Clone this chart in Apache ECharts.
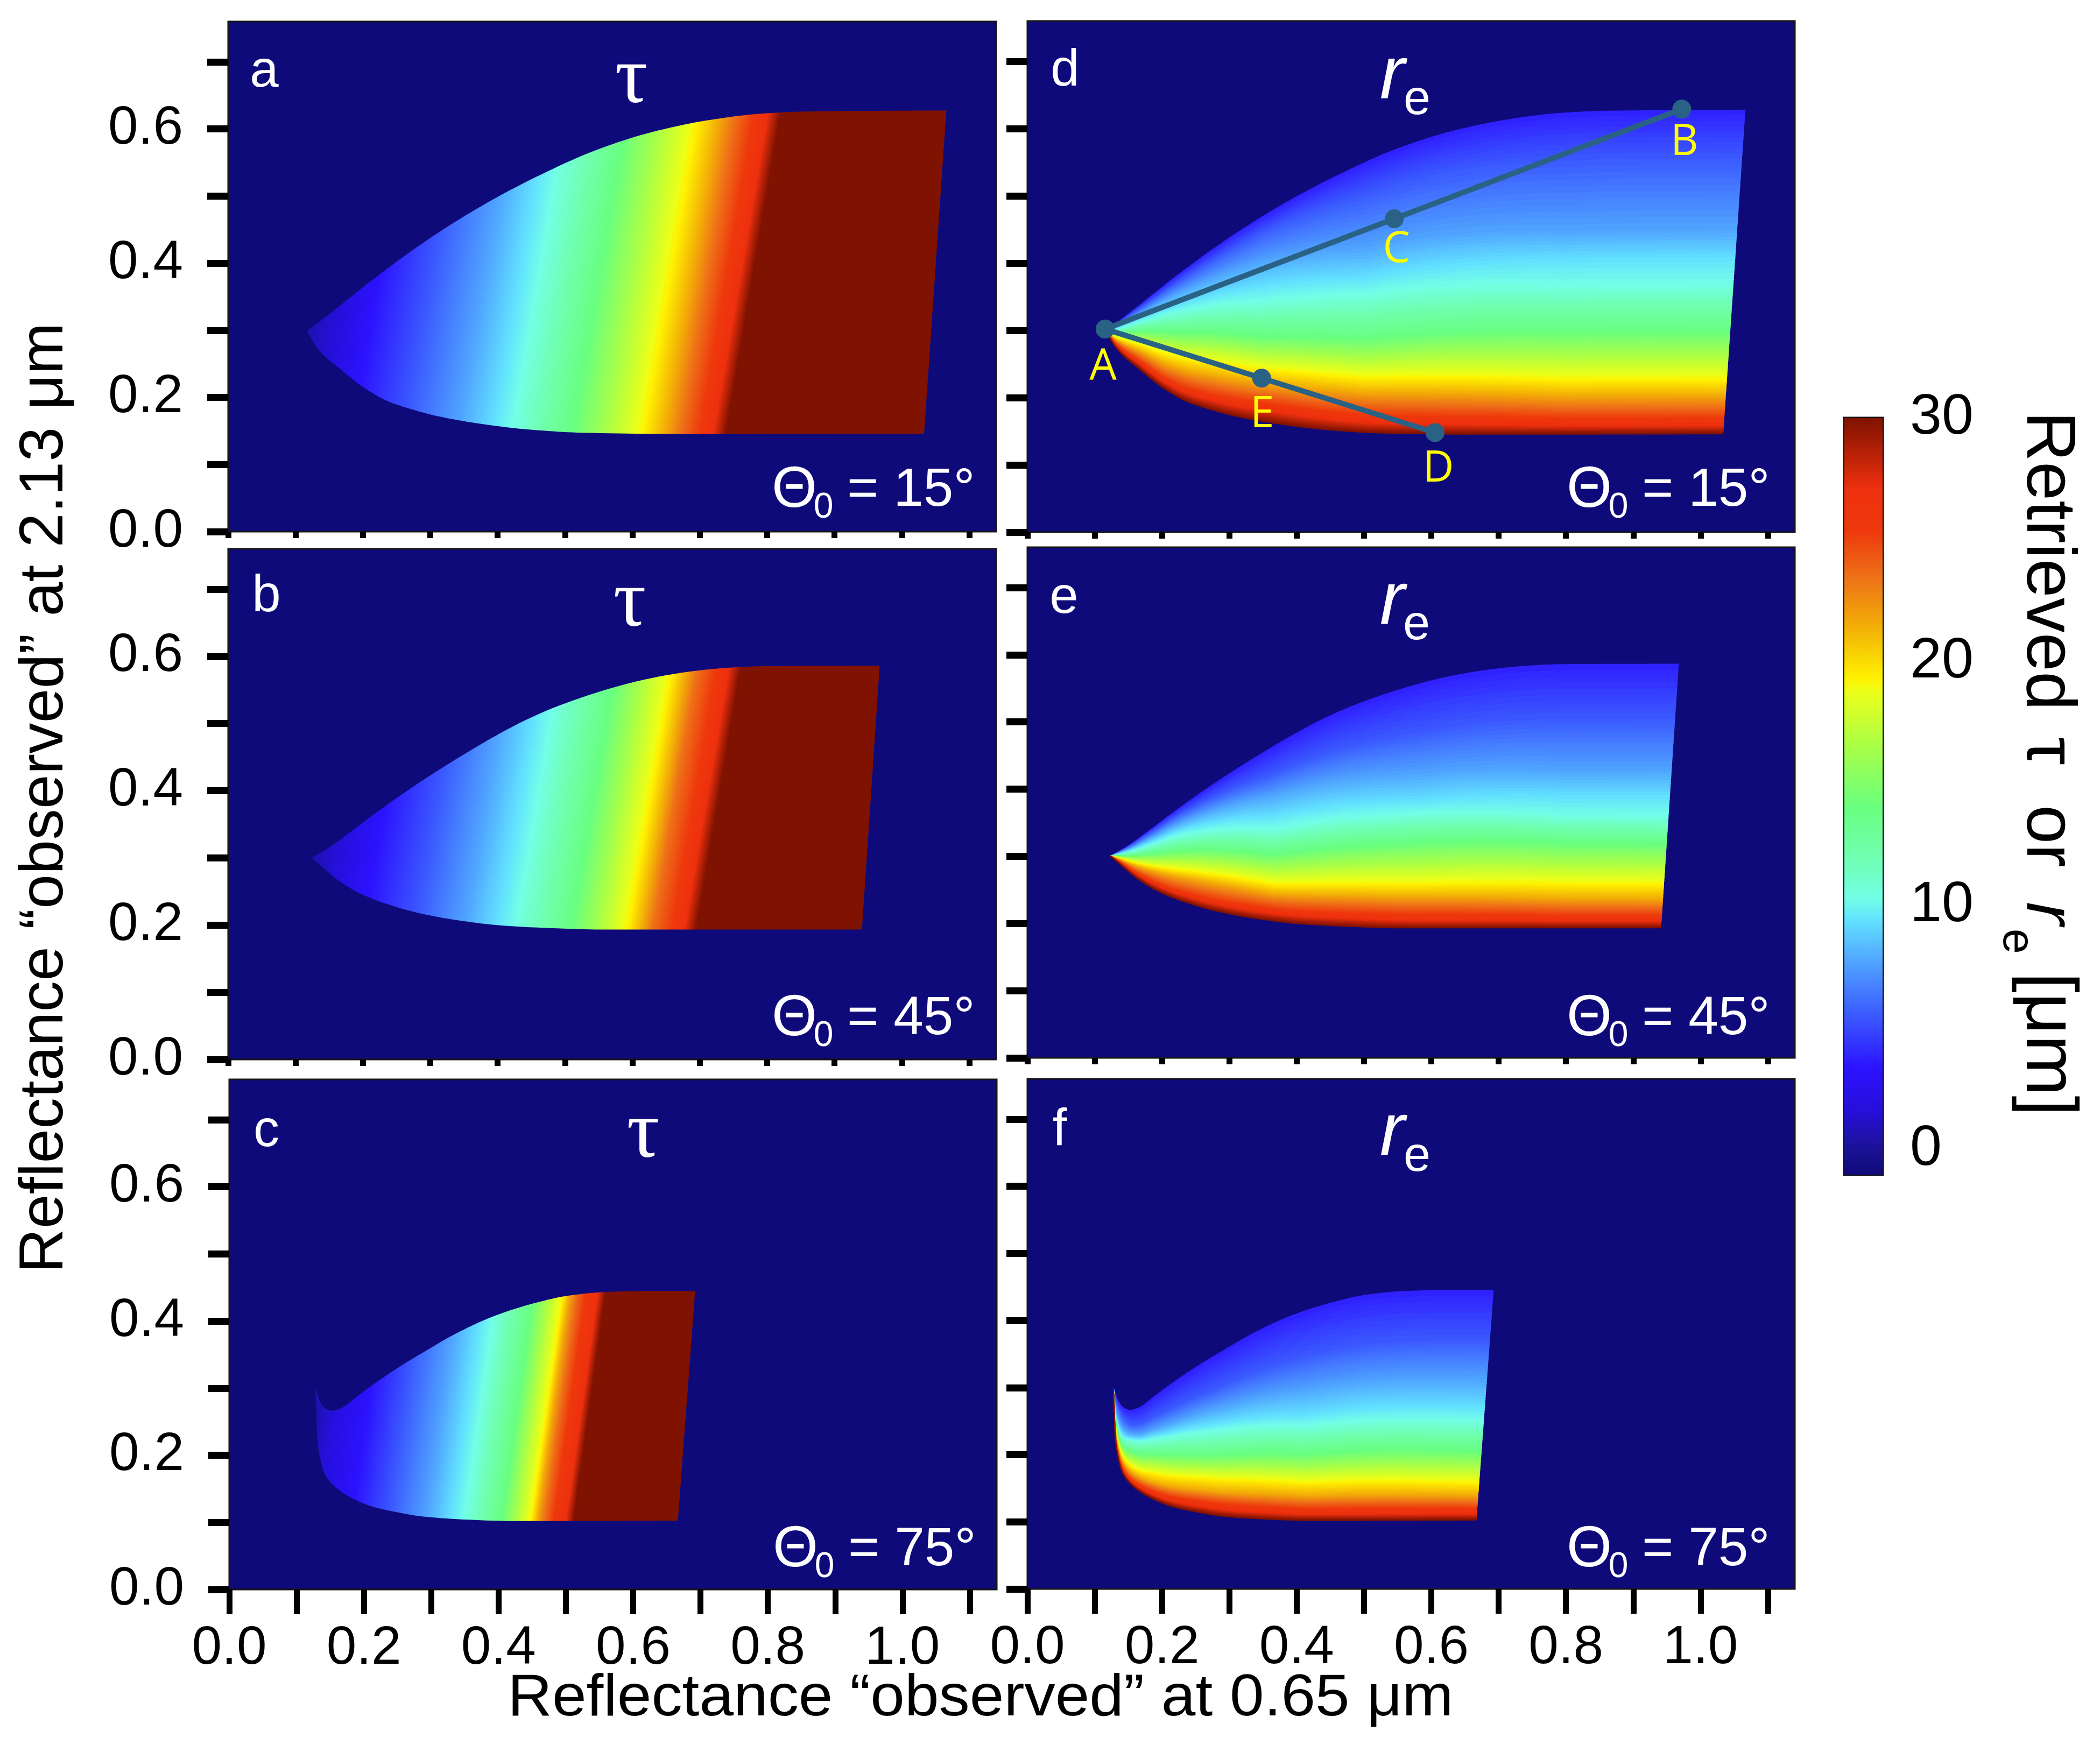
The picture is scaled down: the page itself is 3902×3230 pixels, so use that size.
<!DOCTYPE html>
<html><head><meta charset="utf-8">
<style>html,body{margin:0;padding:0;background:#fff}#c{width:3902px;height:3230px}</style>
<script src="https://cdn.jsdelivr.net/npm/echarts@6/dist/echarts.min.js"></script>
</head><body><div id="c"></div>
<script>
// ---------- values ----------
const xTickValues = [0,0.1,0.2,0.3,0.4,0.5,0.6,0.7,0.8,0.9,1.0,1.1];
const xLabelValues = [0,0.2,0.4,0.6,0.8,1.0];
const yTickValues = [0,0.1,0.2,0.3,0.4,0.5,0.6,0.7];
const yLabelValues = [0,0.2,0.4,0.6];
const barTicks = [0,10,20,30];

const cmapValues = [-1.04,0,1.5,3.3,5.5,7.7,9.4,10.3,12,14,16.5,18.8,19.3,21.65,23.5,25.4,27.1,30];
const cmapColors = ['#0f0a78','#1b1296','#2510d8','#2c12ff','#3b5aff','#50a4ff','#62e2ff','#72ffe6','#70ffb0','#68ff80','#a8ff48','#ecff18','#fff200','#f2a808','#ee7018','#ee380c','#ee300e','#7f1200'];

// outline of the reflectance region: [R0.65, R2.13]
const upper15 = [[.117,.2985],[.165,.336],[.2208,.3803],[.3024,.4391],[.384,.4898],[.4656,.5326],[.547,.5688],[.629,.5953],[.7105,.6126],[.792,.6228],[.861,.626],[1.066,.6275]];
const lower15 = [[.117,.2985],[.132,.2735],[.168,.241],[.2037,.213],[.239,.1935],[.275,.1815],[.311,.172],[.3826,.1595],[.4536,.1515],[.525,.1474],[.659,.1455],[1.033,.146]];
const upper45 = [[.1238,.3003],[.149,.315],[.182,.339],[.218,.366],[.262,.3975],[.306,.4267],[.349,.4535],[.393,.4795],[.437,.503],[.4805,.5225],[.524,.5385],[.568,.5525],[.6116,.564],[.655,.5727],[.699,.579],[.75,.5836],[.80,.5855],[.967,.586]];
const lower45 = [[.1238,.3003],[.138,.288],[.164,.2663],[.1966,.2468],[.233,.2323],[.284,.2177],[.342,.207],[.408,.1992],[.473,.1958],[.553,.1934],[.9407,.1934]];
const upper75 = [[.1277,.2997],[.1344,.281],[.1424,.2703],[.153,.2663],[.1664,.2703],[.1864,.285],[.2077,.301],[.2344,.3197],[.261,.337],[.2877,.353],[.3368,.3814],[.395,.408],[.4533,.4266],[.5019,.4375],[.56,.4433],[.618,.4447],[.692,.4447]];
const lower75 = [[.1277,.2997],[.129,.2703],[.1304,.2302],[.1344,.1982],[.141,.1741],[.1518,.1581],[.1678,.1448],[.189,.1328],[.213,.1234],[.2478,.1154],[.2878,.1087],[.341,.1047],[.421,.102],[.6664,.1026]];

// tau: where each tau value meets the lower edge, and the lean of the iso-tau lines
const tauLevels = [.5,1.8,3.3,5.5,7.7,10.3,14,19.3,21.65,23.5,25.4,27.1,30];
const tauAtLower15 = [.09,.141,.183,.263,.341,.421,.511,.616,.65,.672,.70,.72,.739];
const tauAtLower45 = [.106,.152,.2,.28,.35,.426,.51,.593,.615,.63,.659,.677,.695];
const tauAtLower75 = [.107,.134,.182,.238,.293,.349,.405,.4484,.458,.468,.482,.5,.5115];
const tauLean15 = .17, tauLean45 = .17, tauLean75 = .14;

// re: height of each re value between lower (0) and upper (1) edge, at several R0.65
const reLevels = [5.5,7.7,9.4,10.3,14,19.3,21.65,25.4,27.1];
const reTop = 3.7, reBottom = 30;
const reAt15 = [.116,.14,.2,.35,.5,.8,1.07];
const reFrac15 = [[.96,.95,.94,.92,.88,.85,.85],[.87,.86,.86,.78,.68,.63,.63],[.80,.79,.77,.66,.57,.54,.54],[.75,.74,.72,.585,.513,.463,.46],[.62,.61,.55,.41,.345,.318,.316],[.43,.41,.338,.252,.2,.167,.165],[.33,.31,.24,.182,.144,.116,.115],[.16,.146,.10,.088,.063,.048,.048],[.10,.09,.06,.055,.035,.025,.025]];
const reAt45 = [.125,.15,.218,.364,.582,.80,.97];
const reFrac45 = [[.96,.95,.93,.84,.8,.79,.79],[.87,.86,.84,.72,.63,.595,.595],[.80,.79,.76,.6,.52,.496,.496],[.75,.74,.71,.524,.469,.425,.42],[.62,.6,.54,.38,.347,.32,.317],[.43,.4,.33,.21,.177,.165,.163],[.33,.31,.25,.152,.125,.108,.107],[.16,.14,.096,.067,.054,.046,.046],[.10,.09,.06,.04,.03,.025,.025]];
const reAt75 = [.128,.137,.154,.183,.26,.413,.69];
const reFrac75 = [[.88,.86,.8,.8,.79,.78,.78],[.68,.67,.68,.68,.67,.62,.61],[.56,.56,.62,.62,.58,.5,.49],[.52,.52,.60,.59,.54,.45,.429],[.38,.38,.44,.44,.38,.313,.297],[.24,.24,.24,.25,.23,.176,.159],[.16,.16,.16,.16,.15,.115,.104],[.06,.06,.06,.075,.075,.053,.048],[.03,.03,.03,.04,.04,.028,.025]];

// lines in panel d
const pathUpperX = [.1155,.545,.972], pathUpperY = [.302,.466,.629], pathUpperNames = ['A','C','B'];
const pathLowerX = [.1155,.348,.6055], pathLowerY = [.302,.229,.148], pathLowerNames = ['','E','D'];
const panelLetters = ['a','b','c','d','e','f'];
const zenithText = ['= 15°','= 45°','= 75°'];

// ---------- helpers ----------
const BG = '#0f0a7a';
const hex = c => [1,3,5].map(i => parseInt(c.substr(i,2),16));
function cmap(v){
  if (v <= cmapValues[0]) return cmapColors[0];
  for (let i=1;i<cmapValues.length;i++) if (v <= cmapValues[i]) {
    const t=(v-cmapValues[i-1])/(cmapValues[i]-cmapValues[i-1]), a=hex(cmapColors[i-1]), b=hex(cmapColors[i]);
    return 'rgb('+a.map((p,k)=>Math.round(p+(b[k]-p)*t)).join(',')+')';
  }
  return cmapColors[cmapColors.length-1];
}
function lin(xs,ys,x){
  if (x<=xs[0]) return ys[0];
  for (let i=1;i<xs.length;i++) if (x<=xs[i]) return ys[i-1]+(ys[i]-ys[i-1])*(x-xs[i-1])/(xs[i]-xs[i-1]);
  return ys[ys.length-1];
}
const edge = (line,x) => lin(line.map(p=>p[0]),line.map(p=>p[1]),x);

// draws an outline as a smooth curve through the points read (monotone cubic, so no overshoot)
function smoothOutline(line){
  const n=line.length, h=[], d=[], m=new Array(n);
  for(let i=0;i<n-1;i++){h[i]=line[i+1][0]-line[i][0];d[i]=(line[i+1][1]-line[i][1])/h[i];}
  m[0]=d[0];m[n-1]=d[n-2];
  for(let i=1;i<n-1;i++){
    if(d[i-1]*d[i]<=0){m[i]=0;continue;}
    const w1=2*h[i]+h[i-1],w2=h[i]+2*h[i-1];
    m[i]=(w1+w2)/(w1/d[i-1]+w2/d[i]);
  }
  const out=[];
  for(let i=0;i<n-1;i++){
    for(let k=0;k<10;k++){
      const t=k/10,t2=t*t,t3=t2*t;
      out.push([line[i][0]+t*h[i],
        (2*t3-3*t2+1)*line[i][1]+(t3-2*t2+t)*h[i]*m[i]+(-2*t3+3*t2)*line[i+1][1]+(t3-t2)*h[i]*m[i+1]]);
    }
  }
  out.push(line[n-1]);
  return out;
}

function reBandPolygons(up,lo,at,frac){
  const xs = Array.from(new Set(up.map(p=>p[0]).concat(lo.map(p=>p[0]),at))).sort((a,b)=>a-b);
  const levels = [reTop].concat(reLevels,[reBottom]);
  const fracOf = (re,x) => {
    const col = [1].concat(frac.map(r=>lin(at,r,x)),[0]);
    return lin(levels,col,re);
  };
  const upR = up[up.length-1], loR = lo[lo.length-1];
  const lineOf = re => {
    const fe = fracOf(re,at[at.length-1]);
    const xe = loR[0]+fe*(upR[0]-loR[0]), ye = loR[1]+fe*(upR[1]-loR[1]);
    const pts = [];
    xs.forEach(x => { if (x<xe) { const f=fracOf(re,x), a=edge(up,x), b=edge(lo,x); pts.push([x,b+f*(a-b)]); }});
    pts.push([xe,ye]);
    return pts;
  };
  const out = [];
  for (let re=reTop; re<reBottom-1e-6; re+=0.2) {
    const r2 = Math.min(re+0.2,reBottom);
    out.push({pts: lineOf(re).concat(lineOf(r2).reverse()), color: cmap((re+r2)/2)});
  }
  return out;
}

function reSeries(idx,upRead,loRead,at,frac){
  const bands = reBandPolygons(smoothOutline(upRead),smoothOutline(loRead),at,frac);
  return {type:'custom',coordinateSystem:'cartesian2d',xAxisIndex:idx,yAxisIndex:idx,silent:true,animation:false,progressive:0,clip:true,
    data:bands.map(b=>b.pts[0]),
    renderItem:(params,api)=>{
      const b=bands[params.dataIndex];
      return {type:'polygon',shape:{points:b.pts.map(p=>api.coord(p))},style:{fill:b.color,stroke:b.color,lineWidth:1.5}};
    }};
}
function tauSeries(idx,upRead,loRead,atLower,lean){
  const up=smoothOutline(upRead), lo=smoothOutline(loRead);
  const lowerY = lo[lo.length-1][1];
  return {type:'custom',coordinateSystem:'cartesian2d',xAxisIndex:idx,yAxisIndex:idx,silent:true,animation:false,clip:true,
    data:[up[0]],
    renderItem:(params,api)=>{
      const n=Math.hypot(1,lean), ux=1/n, uy=lean/n;
      const sAt = x => { const p=api.coord([x,lowerY]); return p[0]*ux+p[1]*uy; };
      const s0=sAt(atLower[0]), s1=sAt(atLower[atLower.length-1]);
      const vals=tauLevels.concat(cmapValues.filter(v=>v>tauLevels[0]&&v<30&&tauLevels.indexOf(v)<0)).sort((a,b)=>a-b);
      const stops=vals.map(v=>({offset:(sAt(lin(tauLevels,atLower,v))-s0)/(s1-s0),color:cmap(v)}));
      const fill=new echarts.graphic.LinearGradient(ux*s0,uy*s0,ux*s1,uy*s1,stops,true);
      return {type:'polygon',shape:{points:up.concat(lo.slice(1).reverse()).map(p=>api.coord(p))},style:{fill:fill}};
    }};
}
function pathSeries(xs,ys,names){
  const off={A:[-4,71],B:[5,62],C:[4,58],D:[6,68],E:[1,68]};
  return {type:'line',xAxisIndex:3,yAxisIndex:3,silent:true,animation:false,symbol:'circle',symbolSize:35,z:10,
    lineStyle:{color:'#2a6285',width:10},itemStyle:{color:'#2a6285'},
    data:xs.map((x,i)=>({value:[x,ys[i]],label:{show:!!names[i],position:'inside',formatter:names[i],offset:off[names[i]]||[0,0],
      color:'#ffff00',fontSize:80,fontFamily:'"Open Sans"'}}))};
}

// ---------- layout ----------
const panels=[
 {l:424,t:40,w:1427,h:948,yl:true,xl:false},
 {l:424,t:1020,w:1427,h:949,yl:true,xl:false},
 {l:426,t:2006,w:1426,h:948,yl:true,xl:true},
 {l:1909,t:39,w:1426,h:950,yl:false,xl:false},
 {l:1909,t:1017,w:1426,h:949,yl:false,xl:false},
 {l:1909,t:2005,w:1426,h:948,yl:false,xl:true}];
const FONT='"Liberation Sans"';
const grids=panels.map(p=>({left:p.l,top:p.t,width:p.w,height:p.h,show:true,backgroundColor:BG,borderColor:'#151515',borderWidth:3,containLabel:false}));
const xAxes=panels.map((p,i)=>({gridIndex:i,type:'value',min:0,max:1.14,splitLine:{show:false},axisLine:{show:false},
  axisTick:{show:true,customValues:xTickValues,length:p.xl?46:12,lineStyle:{color:'#000',width:11}},
  axisLabel:{show:p.xl,customValues:xLabelValues,formatter:v=>v.toFixed(1),fontFamily:FONT,fontSize:100,color:'#000',margin:60}}));
const yAxes=panels.map((p,i)=>({gridIndex:i,type:'value',min:0,max:.76,splitLine:{show:false},axisLine:{show:false},
  axisTick:{show:true,customValues:yTickValues,length:39,lineStyle:{color:'#000',width:13}},
  axisLabel:{show:p.yl,customValues:yLabelValues,formatter:v=>v.toFixed(1),fontFamily:FONT,fontSize:100,color:'#000',margin:84,padding:[22,0,0,0]}}));
// colour bar axes
grids.push({left:3427,top:777,width:71,height:1406,show:true,backgroundColor:BG,borderColor:'#111',borderWidth:5});
xAxes.push({gridIndex:6,type:'value',min:0,max:1,show:false});
yAxes.push({gridIndex:6,type:'value',position:'right',min:-1.04,max:30,splitLine:{show:false},axisLine:{show:false},
  axisTick:{show:true,customValues:barTicks,length:23,lineStyle:{color:'#222',width:3}},
  axisLabel:{customValues:barTicks,fontFamily:FONT,fontSize:106,color:'#000',margin:51,padding:[24,0,0,0]}});

const series=[
 tauSeries(0,upper15,lower15,tauAtLower15,tauLean15),
 tauSeries(1,upper45,lower45,tauAtLower45,tauLean45),
 tauSeries(2,upper75,lower75,tauAtLower75,tauLean75),
 reSeries(3,upper15,lower15,reAt15,reFrac15),
 reSeries(4,upper45,lower45,reAt45,reFrac45),
 reSeries(5,upper75,lower75,reAt75,reFrac75),
 pathSeries(pathUpperX,pathUpperY,pathUpperNames),
 pathSeries(pathLowerX,pathLowerY,pathLowerNames),
 {type:'custom',coordinateSystem:'cartesian2d',xAxisIndex:6,yAxisIndex:6,silent:true,animation:false,clip:true,data:[[0,0]],
  renderItem:(params,api)=>{
    const a=api.coord([0,-1.04]), b=api.coord([1,30]);
    const stops=cmapValues.map((v,i)=>({offset:(v+1.04)/31.04,color:cmapColors[i]}));
    return {type:'rect',shape:{x:a[0],y:b[1],width:b[0]-a[0],height:a[1]-b[1]},
      style:{fill:new echarts.graphic.LinearGradient(0,1,0,0,stops)}};
  }}
];

// ---------- text ----------
const texts=[];
function T(text,x,y,size,opt){
  opt=opt||{};
  texts.push({type:'text',x:x,y:y,z:100,rotation:opt.rot||0,scaleX:opt.sx||1,silent:true,
    style:{text:text,x:0,y:0,fontSize:size,fontFamily:opt.font||FONT,fontStyle:opt.italic?'italic':'normal',
      fill:opt.fill||'#fff',align:opt.align||'center',verticalAlign:'middle',textAlign:opt.align||'center',textVerticalAlign:'middle'}});
}
const letterPos=[[491,135],[495,1110],[495,2104],[1979,133],[1977,1113],[1969,2102]];
panelLetters.forEach((s,i)=>T(s,letterPos[i][0],letterPos[i][1],96));
[[1173,150],[1170,1123],[1195,2110]].forEach(p=>T('τ',p[0],p[1],152,{font:'"Liberation Serif"'}));
[[2587,144,2633,187],[2587,1121,2632,1163],[2587,2108,2633,2151]].forEach(p=>{
  T('r',p[0],p[1],140,{italic:true}); T('e',p[2],p[3],90);
});
[[424,912,0],[424,1894,1],[426,2881,2],[1905,912,0],[1905,1894,1],[1905,2881,2]].forEach((p,i)=>{
  const d=i<3?0:-4;
  T('Θ',p[0]+1052+d,p[1],108);
  T('0',p[0]+1106+d,p[1]+32,66);
  T(zenithText[p[2]],p[0]+1150+d,p[1],100,{align:'left'});
});
T('Reflectance “observed” at 0.65 μm',1822,3158,110,{sx:1.04,fill:'#000'});
T('Reflectance “observed” at 2.13 μm',84,1483,115,{rot:Math.PI/2,fill:'#000'});
T('Retrieved',3803,764,130,{rot:-Math.PI/2,align:'left',fill:'#000'});
T('τ',3803,1370,130,{rot:-Math.PI/2,align:'left',fill:'#000'});
T('or',3803,1496,130,{rot:-Math.PI/2,align:'left',fill:'#000'});
T('r',3803,1676,130,{rot:-Math.PI/2,align:'left',italic:true,fill:'#000'});
T('e',3746,1726,84,{rot:-Math.PI/2,align:'left',fill:'#000'});
T('[μm]',3803,1807,136,{rot:-Math.PI/2,align:'left',fill:'#000'});

const chart=echarts.init(document.getElementById('c'),null,{renderer:'canvas',width:3902,height:3230});
chart.setOption({animation:false,backgroundColor:'#fff',grid:grids,xAxis:xAxes,yAxis:yAxes,series:series,graphic:{elements:texts}});
</script></body></html>
